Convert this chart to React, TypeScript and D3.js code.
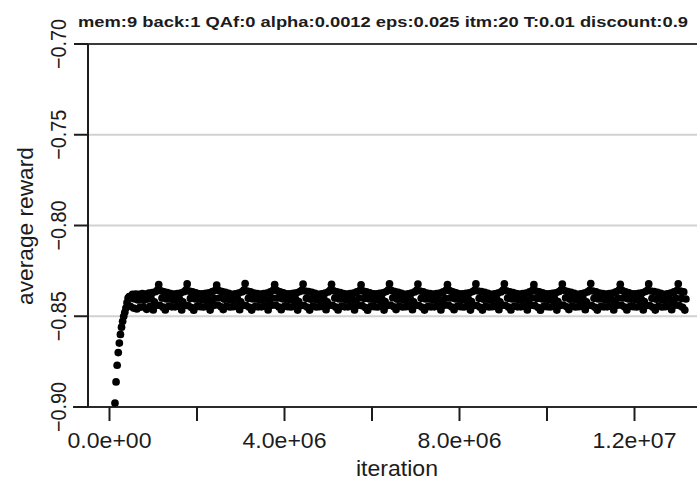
import React from "react";
import * as d3 from "d3";

const titleText = "mem:9 back:1 QAf:0 alpha:0.0012 eps:0.025 itm:20 T:0.01 discount:0.9";
const yLabel = "average reward";
const xLabel = "iteration";

const yTicks = [-0.9, -0.85, -0.8, -0.75, -0.7];
const yTickLabels = ["\u22120.90", "\u22120.85", "\u22120.80", "\u22120.75", "\u22120.70"];
const yGrid = [-0.85, -0.8, -0.75];
const xTicks = [0, 2e6, 4e6, 6e6, 8e6, 1e7, 1.2e7];
const xTickLabels = ["0.0e+00", "", "4.0e+06", "", "8.0e+06", "", "1.2e+07"];

const firstIteration = 125000;
const iterationStep = 25000;

// early rise of the average reward
const riseReward = [
  -0.8978, -0.8862, -0.877, -0.87, -0.8648, -0.86, -0.856, -0.8528, -0.85, -0.8478, -0.8455, -0.8425, -0.84, -0.8392,
];
const warmupReward = [
  -0.8445, -0.84, -0.838, -0.8455, -0.8405, -0.8378, -0.846, -0.841, -0.838, -0.845, -0.8405, -0.8375, -0.8448,
  -0.841, -0.8378, -0.8462, -0.8405, -0.8372, -0.8445, -0.8402, -0.837, -0.8465, -0.842, -0.8365, -0.844, -0.8355,
];
// steady-state oscillation, one row per cycle (each row starts at a peak)
const steadyReward = [
  -0.8325,-0.844,-0.836,-0.84,-0.845,-0.8365,-0.8465,-0.8405,-0.837,-0.8445,-0.8405,-0.8375,-0.8448,-0.8408,-0.8378,-0.8448,-0.8408,-0.8375,-0.8445,-0.8405,-0.8372,-0.8465,-0.842,-0.8365,-0.844,-0.8355,
  -0.8322,-0.8442,-0.8362,-0.8402,-0.8452,-0.8366,-0.8467,-0.8404,-0.8371,-0.8446,-0.8406,-0.8376,-0.8447,-0.8407,-0.8377,-0.8449,-0.8409,-0.8374,-0.8444,-0.8404,-0.8371,-0.8466,-0.8419,-0.8364,-0.8441,-0.8401,-0.8356,
  -0.8328,-0.8438,-0.8358,-0.8398,-0.8448,-0.8364,-0.8463,-0.8406,-0.8369,-0.8444,-0.8404,-0.8374,-0.8449,-0.8409,-0.8379,-0.8447,-0.8407,-0.8376,-0.8446,-0.8406,-0.8373,-0.8464,-0.8421,-0.8366,-0.8439,-0.8354,
  -0.832,-0.8441,-0.8361,-0.8401,-0.8451,-0.8365,-0.8466,-0.8405,-0.8372,-0.8447,-0.8405,-0.8375,-0.8448,-0.8408,-0.8378,-0.8448,-0.8408,-0.8375,-0.8445,-0.8405,-0.8372,-0.8465,-0.842,-0.8365,-0.844,-0.84,-0.8355,
  -0.8326,-0.8439,-0.8359,-0.8399,-0.8449,-0.8366,-0.8464,-0.8404,-0.8371,-0.8446,-0.8406,-0.8376,-0.8447,-0.8407,-0.8377,-0.8449,-0.8409,-0.8374,-0.8444,-0.8404,-0.8371,-0.8466,-0.8419,-0.8364,-0.8441,-0.8356,
  -0.8323,-0.8441,-0.8361,-0.8401,-0.8451,-0.8364,-0.8466,-0.8406,-0.8369,-0.8444,-0.8404,-0.8374,-0.8449,-0.8409,-0.8379,-0.8447,-0.8407,-0.8376,-0.8446,-0.8406,-0.8373,-0.8464,-0.8421,-0.8366,-0.8439,-0.8354,
  -0.8324,-0.844,-0.836,-0.84,-0.845,-0.8365,-0.8465,-0.8405,-0.837,-0.8445,-0.8405,-0.8375,-0.8448,-0.8408,-0.8378,-0.8448,-0.8408,-0.8375,-0.8445,-0.8405,-0.8372,-0.8465,-0.842,-0.8365,-0.844,-0.84,-0.8357,
  -0.8327,-0.8442,-0.8362,-0.8402,-0.8452,-0.8366,-0.8467,-0.8404,-0.8371,-0.8446,-0.8406,-0.8376,-0.8447,-0.8407,-0.8377,-0.8449,-0.8409,-0.8374,-0.8444,-0.8404,-0.8371,-0.8466,-0.8419,-0.8364,-0.8441,-0.8354,
  -0.8321,-0.8438,-0.8358,-0.8398,-0.8448,-0.8364,-0.8463,-0.8406,-0.8369,-0.8444,-0.8404,-0.8374,-0.8449,-0.8409,-0.8379,-0.8447,-0.8407,-0.8376,-0.8446,-0.8406,-0.8373,-0.8464,-0.8421,-0.8366,-0.8439,-0.8356,
  -0.8323,-0.8441,-0.8361,-0.8401,-0.8451,-0.8365,-0.8466,-0.8405,-0.8372,-0.8447,-0.8405,-0.8375,-0.8448,-0.8408,-0.8378,-0.8448,-0.8408,-0.8375,-0.8445,-0.8405,-0.8372,-0.8465,-0.842,-0.8365,-0.844,-0.8401,-0.8355,
  -0.8325,-0.8439,-0.8359,-0.8399,-0.8449,-0.8366,-0.8464,-0.8404,-0.8371,-0.8446,-0.8406,-0.8376,-0.8447,-0.8407,-0.8377,-0.8449,-0.8409,-0.8374,-0.8444,-0.8404,-0.8371,-0.8466,-0.8419,-0.8364,-0.8441,-0.8356,
  -0.8322,-0.8441,-0.8361,-0.8401,-0.8451,-0.8364,-0.8466,-0.8406,-0.8369,-0.8444,-0.8404,-0.8374,-0.8449,-0.8409,-0.8379,-0.8447,-0.8407,-0.8376,-0.8446,-0.8406,-0.8373,-0.8464,-0.8421,-0.8366,-0.8439,-0.8354,
  -0.8321,-0.844,-0.836,-0.84,-0.845,-0.8365,-0.8465,-0.8405,-0.837,-0.8445,-0.8405,-0.8375,-0.8448,-0.8408,-0.8378,-0.8448,-0.8408,-0.8375,-0.8445,-0.8405,-0.8372,-0.8465,-0.842,-0.8365,-0.844,-0.8399,-0.8356,
  -0.8326,-0.8442,-0.8362,-0.8402,-0.8452,-0.8366,-0.8467,-0.8404,-0.8371,-0.8446,-0.8406,-0.8376,-0.8447,-0.8407,-0.8377,-0.8449,-0.8409,-0.8374,-0.8444,-0.8404,-0.8371,-0.8466,-0.8419,-0.8364,-0.8441,-0.8355,
  -0.8323,-0.8438,-0.8358,-0.8398,-0.8448,-0.8364,-0.8463,-0.8406,-0.8369,-0.8444,-0.8404,-0.8374,-0.8449,-0.8409,-0.8379,-0.8447,-0.8407,-0.8376,-0.8446,-0.8406,-0.8373,-0.8464,-0.8421,-0.8366,-0.8439,-0.8357,
  -0.832,-0.8441,-0.8361,-0.8401,-0.8451,-0.8365,-0.8466,-0.8405,-0.8372,-0.8447,-0.8405,-0.8375,-0.8448,-0.8408,-0.8378,-0.8448,-0.8408,-0.8375,-0.8445,-0.8405,-0.8372,-0.8465,-0.842,-0.8365,-0.844,-0.84,-0.8354,
  -0.8324,-0.8439,-0.8359,-0.8399,-0.8449,-0.8366,-0.8465,-0.8404,-0.8371,-0.8446,-0.8406,-0.8376,-0.8447,-0.8407,-0.8377,-0.8449,-0.8409,-0.8374,-0.8444,-0.8404,-0.8371,-0.8465,-0.8419,-0.8364,-0.8441,-0.8356,
  -0.8322,-0.8441,-0.8361,-0.8401,-0.8451,-0.8364,-0.8466,-0.8406,-0.8369,-0.8444,-0.8404,-0.8374,-0.8449,-0.8409,-0.8379,-0.8447,-0.8407,-0.8376,-0.8446,-0.8406,-0.8373,-0.8464,-0.8421,-0.8366,-0.8439,-0.8401,-0.8357,
  -0.8321,-0.8441,-0.8362,-0.8402,-0.8451,-0.8366,-0.8466,-0.8405,
];

const reward = [...riseReward, ...warmupReward, ...steadyReward];

const W = 697;
const H = 485;
const FONT = "'Liberation Sans', Arial, Helvetica, sans-serif";
const INK = "#1c1c1c";

export default function App() {
  const x = d3.scaleLinear().domain([0, 2e6]).range([109.5, 197]);
  const y = d3.scaleLinear().domain([-0.9, -0.7]).range([407, 44]);
  const points = reward.map((r, i) => ({ it: firstIteration + i * iterationStep, r }));
  const axisX = 88;
  const leftEdge = 74;

  return (
    <svg
      width={W}
      height={H}
      viewBox={`0 0 ${W} ${H}`}
      style={{ position: "absolute", left: 0, top: 0, background: "#fff" }}
    >
      <rect x={0} y={0} width={W} height={H} fill="#fff" />
      {/* title */}
      <text
        x={78}
        y={27}
        fontFamily={FONT}
        fontWeight="bold"
        fontSize={15}
        fill={INK}
        textLength={610}
        lengthAdjust="spacingAndGlyphs"
      >
        {titleText}
      </text>

      {/* grid lines */}
      {yGrid.map((v) => (
        <line key={v} x1={axisX} x2={W} y1={y(v)} y2={y(v)} stroke="#d2d2d2" strokeWidth={2} />
      ))}
      {/* top and bottom rules */}
      <line x1={leftEdge} x2={W} y1={y(-0.7)} y2={y(-0.7)} stroke="#3a3a3a" strokeWidth={2} />
      <line x1={leftEdge - 1} x2={W} y1={y(-0.9)} y2={y(-0.9)} stroke="#2a2a2a" strokeWidth={2} />

      {/* y axis */}
      <line x1={axisX} x2={axisX} y1={y(-0.7)} y2={y(-0.9)} stroke={INK} strokeWidth={2} />
      {yTicks.map((v, i) => (
        <g key={v}>
          <line x1={leftEdge} x2={axisX} y1={y(v)} y2={y(v)} stroke={INK} strokeWidth={2} />
          <text
            transform={`translate(66,${y(v)}) rotate(-90)`}
            textAnchor="middle"
            fontFamily={FONT}
            fontSize={22}
            fill={INK}
            textLength={50}
            lengthAdjust="spacingAndGlyphs"
          >
            {yTickLabels[i]}
          </text>
        </g>
      ))}
      <text
        transform={`translate(33,226) rotate(-90)`}
        textAnchor="middle"
        fontFamily={FONT}
        fontSize={22}
        fill={INK}
        textLength={158}
        lengthAdjust="spacingAndGlyphs"
      >
        {yLabel}
      </text>

      {/* x axis ticks */}
      {xTicks.map((v, i) => (
        <g key={v}>
          <line x1={x(v)} x2={x(v)} y1={y(-0.9)} y2={421} stroke={INK} strokeWidth={2} />
          {xTickLabels[i] && (
            <text
              x={x(v)}
              y={448}
              textAnchor="middle"
              fontFamily={FONT}
              fontSize={22}
              fill={INK}
              textLength={84}
              lengthAdjust="spacingAndGlyphs"
            >
              {xTickLabels[i]}
            </text>
          )}
        </g>
      ))}
      <text
        x={397}
        y={476}
        textAnchor="middle"
        fontFamily={FONT}
        fontSize={22}
        fill={INK}
        textLength={82}
        lengthAdjust="spacingAndGlyphs"
      >
        {xLabel}
      </text>

      {/* points */}
      <g fill="#000">
        {points.map((p, i) => (
          <circle key={i} cx={x(p.it)} cy={y(p.r)} r={3.85} />
        ))}
      </g>
    </svg>
  );
}
